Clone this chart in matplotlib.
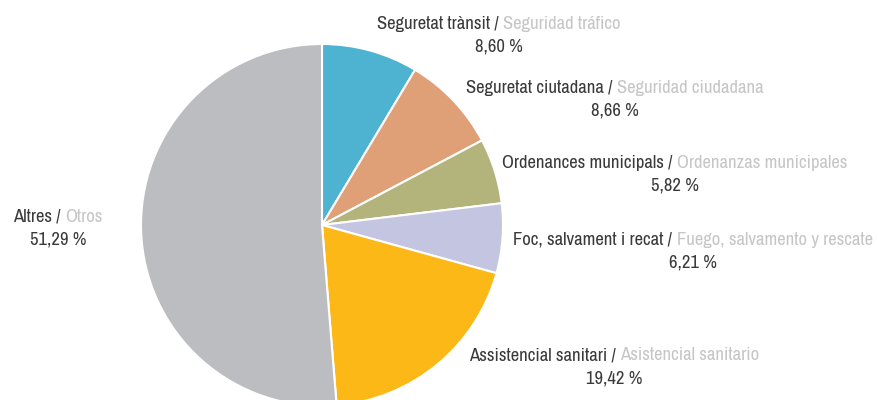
import matplotlib
matplotlib.use('Agg')
import matplotlib.pyplot as plt
from matplotlib import font_manager

names_ca = ['Seguretat trànsit', 'Seguretat ciutadana', 'Ordenances municipals',
            'Foc, salvament i recat', 'Assistencial sanitari', 'Altres']
names_es = ['Seguridad tráfico', 'Seguridad ciudadana', 'Ordenanzas municipales',
            'Fuego, salvamento y rescate', 'Asistencial sanitario', 'Otros']
values = [8.60, 8.66, 5.82, 6.21, 19.42, 51.29]
colors = ['#4db3d0', '#dfa077', '#b2b47b', '#c4c5e1', '#fbb817', '#bcbdc0']

# label centres in pixel space (x, y of first line)
label_pos = [(499, 24), (615, 88), (675, 163), (693, 240), (614, 355), (58, 217)]

# look for a narrow face, the original uses a condensed font
narrow = [f for f in font_manager.fontManager.ttflist
          if 'narrow' in f.name.lower() or 'condensed' in f.name.lower()]
cond = [f for f in font_manager.fontManager.ttflist
        if f.name == 'DejaVu Sans' and f.stretch == 'condensed' and f.style == 'normal']
font_kw = dict(family='DejaVu Sans')
if narrow:
    font_kw = dict(family=narrow[0].name)
elif cond:
    font_kw = dict(family='DejaVu Sans', stretch='condensed')

W, H = 879, 400
fig = plt.figure(figsize=(W / 100, H / 100), dpi=100)
ax = fig.add_axes([0, 0, 1, 1])
ax.axis('off')

ax.pie(values, colors=colors, startangle=90, counterclock=False,
       center=(322, H - 225), radius=181,
       wedgeprops=dict(edgecolor='white', linewidth=1.5))
ax.set_xlim(0, W)
ax.set_ylim(0, H)
ax.set_aspect('equal')

dark, light = '#3a3a3a', '#c6c6c6'
fig.canvas.draw()
renderer = fig.canvas.get_renderer()

# fit the font size so the first label is as wide as in the original (~243 px)
probe = ax.text(0, 0, names_ca[0] + ' / ' + names_es[0], fontsize=12, **font_kw)
fs = 12 * 243 / probe.get_window_extent(renderer).width
probe.remove()

for ca, es, v, (x, y) in zip(names_ca, names_es, values, label_pos):
    yy = H - y
    t1 = ax.text(0, yy, ca + ' / ', color=dark, fontsize=fs, va='center', ha='left', **font_kw)
    t2 = ax.text(0, yy, es, color=light, fontsize=fs, va='center', ha='left', **font_kw)
    w1 = t1.get_window_extent(renderer).width
    w2 = t2.get_window_extent(renderer).width
    x0 = x - (w1 + w2) / 2
    t1.set_x(x0)
    t2.set_x(x0 + w1)
    pct = ('%.2f' % v).replace('.', ',') + ' %'
    ax.text(x, yy - 23, pct, color=dark, fontsize=fs, va='center', ha='center', **font_kw)

fig.savefig('out.png', dpi=100)
